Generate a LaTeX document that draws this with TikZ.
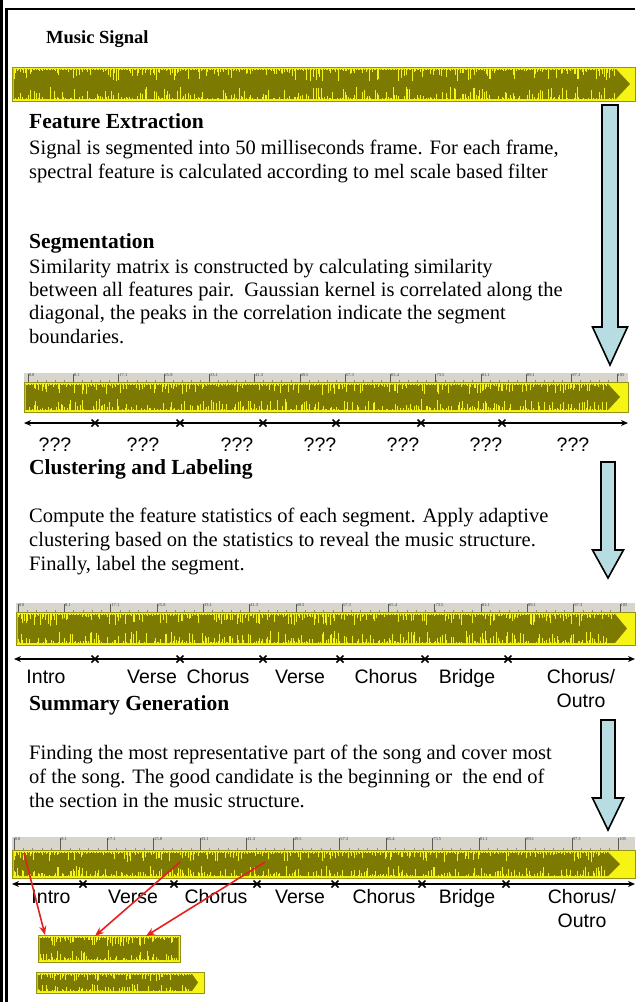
\documentclass[tikz,border=0pt]{standalone}
\usepackage{fontspec}
\setmainfont{Liberation Serif}
\newfontfamily\arialf{Liberation Sans}
\usetikzlibrary{arrows.meta}
\definecolor{wyel}{RGB}{246,244,20}
\definecolor{wolive}{RGB}{124,122,0}
\definecolor{wedge}{RGB}{150,146,20}
\definecolor{rgray}{RGB}{216,213,204}
\definecolor{ablue}{RGB}{183,221,227}
\definecolor{rred}{RGB}{228,32,32}

% waveform: x0, ytop, x1, ybot, end x of olive body, seed, taper length
\newcommand{\wavebar}[7]{%
  \pgfmathsetseed{#6}%
  \pgfmathsetmacro\wa{#1+2}\pgfmathsetmacro\wb{#1+3.6}\pgfmathsetmacro\wc{#5-#7-1}%
  \pgfmathsetmacro\wm{(#2+#4)/2}%
  \fill[wyel] (#1,#2) rectangle (#3,#4);
  \fill[wolive] (#1+1.5,#2+2) -- (#5-#7,#2+2) -- (#5,\wm) -- (#5-#7,#4-2) -- (#1+1.5,#4-2) -- cycle;
  \draw[wyel,line width=0.8pt] foreach \i in {\wa,\wb,...,\wc} {(\i,#2+1.5) -- (\i,{#2+2+(#4-#2)*0.36*rnd^3})};
  \draw[wyel,line width=0.8pt] foreach \i in {\wa,\wb,...,\wc} {(\i,#4-1.5) -- (\i,{#4-2-(#4-#2)*0.36*rnd^3})};
  \draw[wedge,line width=0.8pt] (#1,#2) rectangle (#3,#4);
}
% ruler: x0, x1, ytop, ybot, first label x, spacing, name prefix
\newcommand{\rulerband}[7]{%
  \fill[rgray] (#1,#3) rectangle (#2,#4);
  \draw[black!45,line width=0.4pt] foreach \j in {0,...,64} {({#5+#6*\j/5},#4) -- ({#5+#6*\j/5},{#4-2})};
  \foreach \k/\t in {0/0.0,1/8.1,2/17.1,3/25.8,4/33.1,5/41.3,6/49.5,7/57.3,8/65.4,9/73.5,10/81.1,11/89.1,12/97.3,13/105}{%
    \draw[black!65,line width=0.5pt] ({#5+#6*\k},#4) -- ({#5+#6*\k},{#3+1});
    \node[tinylbl] (#7\k) at ({#5+#6*\k+0.6},{#3+0.5}) {\t};
  }
}
\newcommand{\blockarr}[6]{% cx, top, head y, tip y, shaft half width, head half width
  \draw[blockarrow] (#1-#5,#2) -- (#1+#5,#2) -- (#1+#5,#3) -- (#1+#6,#3) -- (#1,#4) -- (#1-#6,#3) -- (#1-#5,#3) -- cycle;
}
\newcommand{\xmarks}[2]{% y, list
  \foreach \m in {#2} {\draw[xmark] (\m-3.5,#1-3.5) -- (\m+3.5,#1+3.5) (\m-3.5,#1+3.5) -- (\m+3.5,#1-3.5);}
}

\begin{document}
\begin{tikzpicture}[x=1pt,y=-1pt,
  bodyline/.style={anchor=base west,inner sep=0pt,font=\fontsize{20.5}{23.5}\selectfont},
  headline/.style={anchor=base west,inner sep=0pt,font=\fontsize{21.5}{24}\selectfont\bfseries},
  lbl/.style={anchor=base,inner sep=0pt,font=\arialf\fontsize{19.5}{22}\selectfont},
  blockarrow/.style={fill=ablue,draw=black,line width=1.6pt,line join=miter},
  axisline/.style={line width=1.5pt,{Stealth[length=7pt,width=6pt]}-{Stealth[length=7pt,width=6pt]}},
  xmark/.style={line width=1.6pt},
  redarrow/.style={draw=rred,line width=1.6pt,-{Stealth[length=9pt,width=7pt]}},
  tinylbl/.style={anchor=north west,inner sep=0pt,font=\fontsize{4.5}{5}\selectfont,text=black!75}
]
\useasboundingbox (0,0) rectangle (635,1002);
\fill[white] (0,0) rectangle (635,1002);

% frame
\draw[line width=3pt] (1.5,0) -- (1.5,1002);
\draw[line width=2.4pt] (6.5,1002) -- (6.5,8.7) -- (635,8.7);

% Music signal
\node[headline,font=\fontsize{18.5}{21}\selectfont\bfseries] (ms) at (46,43) {Music Signal};
\wavebar{12}{67}{635}{101}{630}{11}{14}

% arrow 1
\blockarr{610}{105}{327}{365}{8}{17.5}

% Feature extraction
\node[headline] (fe) at (29,128) {Feature Extraction};
\node[bodyline] (fe1) at (29,154) {Signal is segmented into 50 milliseconds frame. For each frame,};
\node[bodyline] (fe2) at (29,178) {spectral feature is calculated according to mel scale based filter};

% Segmentation
\node[headline] (sg) at (29,248) {Segmentation};
\node[bodyline] (sg1) at (29,273) {Similarity matrix is constructed by calculating similarity};
\node[bodyline] (sg2) at (29,296) {between all features pair.\ \ Gaussian kernel is correlated along the};
\node[bodyline] (sg3) at (29,319) {diagonal, the peaks in the correlation indicate the segment};
\node[bodyline] (sg4) at (29,343) {boundaries.};

% bar 2
\rulerband{24}{628}{373}{382}{28}{45.3}{rb}
\wavebar{24}{382}{628}{412}{620}{22}{12}
\coordinate (a2l) at (24,423);
\coordinate (a2r) at (628,423);
\draw[axisline] (a2l) -- (a2r);
\xmarks{423}{95,180,263,336,421,502}
\foreach \x [count=\n] in {55,143,237,320,403,486,573}
  \node[lbl] (q\n) at (\x,451) {???};

% Clustering
\node[headline] (cl) at (29,474) {Clustering and Labeling};
\blockarr{608}{462}{550}{578}{7}{15.5}
\node[bodyline] (cl1) at (29,522) {Compute the feature statistics of each segment. Apply adaptive};
\node[bodyline] (cl2) at (29,546) {clustering based on the statistics to reveal the music structure.};
\node[bodyline] (cl3) at (29,570) {Finally, label the segment.};

% bar 3
\rulerband{16}{635}{603}{612}{18}{46.3}{rc}
\wavebar{16}{612}{635}{645}{627}{33}{12}
\coordinate (a3l) at (14,659);
\coordinate (a3r) at (635,659);
\draw[axisline] (a3l) -- (a3r);
\xmarks{659}{95,180,263,340,425,508}
\node[lbl] (c1) at (46,683) {Intro};
\node[lbl] (c2) at (152,683) {Verse};
\node[lbl] (c3) at (218,683) {Chorus};
\node[lbl] (c4) at (300,683) {Verse};
\node[lbl] (c5) at (386,683) {Chorus};
\node[lbl] (c6) at (467,683) {Bridge};
\node[lbl] (c7) at (581,683) {Chorus/};
\node[lbl] (c8) at (581,707) {Outro};

% Summary
\node[headline] (su) at (29,710) {Summary Generation};
\blockarr{608}{720}{798}{830}{7}{15.5}
\node[bodyline] (su1) at (29,759) {Finding the most representative part of the song and cover most};
\node[bodyline] (su2) at (29,783) {of the song. The good candidate is the beginning or\ \ the end of};
\node[bodyline] (su3) at (29,807) {the section in the music structure.};

% bar 4
\rulerband{12}{635}{837}{850}{14}{46.5}{rd}
\wavebar{12}{850}{635}{878}{620}{44}{12}
\coordinate (a4l) at (12,884);
\coordinate (a4r) at (635,884);
\draw[axisline] (a4l) -- (a4r);
\xmarks{884}{83,174,257,335,422,506}
\node[lbl] (d1) at (51,903) {Intro};
\node[lbl] (d2) at (133,903) {Verse};
\node[lbl] (d3) at (216,903) {Chorus};
\node[lbl] (d4) at (300,903) {Verse};
\node[lbl] (d5) at (384,903) {Chorus};
\node[lbl] (d6) at (467,903) {Bridge};
\node[lbl] (d7) at (582,903) {Chorus/};
\node[lbl] (d8) at (582,927) {Outro};

% summary bars
\wavebar{38}{935}{180}{962}{178.5}{55}{0}
\wavebar{36}{972}{204}{993}{198}{66}{6}

% red arrows
\coordinate (s1) at (24,853);
\coordinate (s2) at (180,862);
\coordinate (s3) at (265,862);
\coordinate (e1) at (45,935);
\coordinate (e2) at (95,936);
\coordinate (e3) at (146,936);
\draw[redarrow] (s1) -- (e1);
\draw[redarrow] (s2) -- (e2);
\draw[redarrow] (s3) -- (e3);
\end{tikzpicture}
\end{document}
